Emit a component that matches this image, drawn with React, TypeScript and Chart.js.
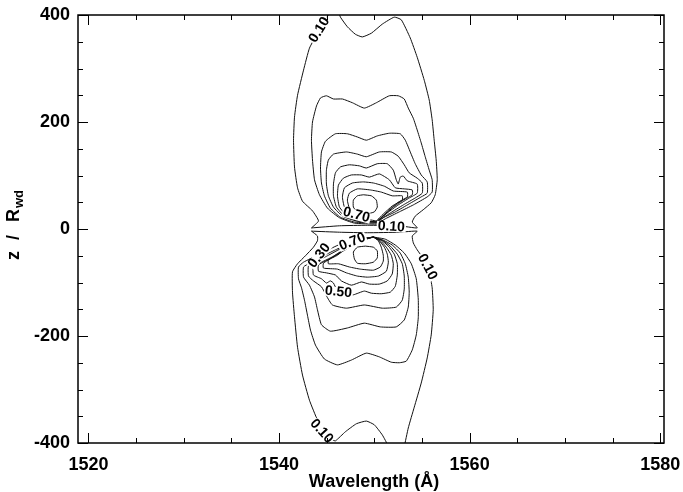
import React, { useEffect, useRef } from 'react';
import { Chart, registerables } from 'chart.js';

Chart.register(...registerables);

const FONT = '"Liberation Sans", Arial, Helvetica, sans-serif';

// Axis ranges and ticks
const xRange = [1518.9, 1580.4];
const yRange = [-400, 400];
const xMajorTicks = [1520, 1540, 1560, 1580];
const xMinorTicks = [1525, 1530, 1535, 1545, 1550, 1555, 1565, 1570, 1575];
const yMajorTicks = [-400, -200, 0, 200, 400];
const yMinorTicks = [-350, -300, -250, -150, -100, -50, 50, 100, 150, 250, 300, 350];

// Contours (wavelength in Å, z / R_wd), upper lobe
const upper010 = [
  [1543.40, 2], [1544.14, 15], [1543.51, 34], [1542.46, 52], [1541.94, 77], [1541.62, 116], [1541.52, 166],
  [1541.62, 209], [1541.94, 250], [1542.57, 297], [1543.19, 338], [1544.03, 366], [1544.87, 391], [1545.50, 409],
  [1546.13, 409], [1546.44, 396], [1547.17, 378], [1548.01, 364], [1548.74, 359], [1549.69, 366], [1550.84, 383],
  [1552.09, 396], [1552.83, 391], [1553.77, 357], [1554.50, 321], [1555.24, 278], [1555.76, 241], [1556.07, 204],
  [1556.28, 166], [1556.49, 129], [1556.60, 92], [1556.39, 64], [1555.97, 49], [1555.13, 36], [1554.29, 24],
  [1553.98, 13], [1554.50, 2], [1552.62, 6], [1549.27, 7], [1546.34, 6], [1543.40, 2],
];
const upper020 = [
  [1550.21, 9], [1547.91, 11], [1546.34, 21], [1545.08, 39], [1544.24, 64], [1543.72, 92], [1543.51, 129],
  [1543.40, 166], [1543.51, 200], [1543.93, 230], [1544.35, 245], [1544.97, 249], [1545.71, 243], [1546.65, 243],
  [1547.70, 236], [1548.95, 226], [1550.21, 236], [1551.57, 249], [1552.51, 249], [1553.14, 243], [1553.56, 226],
  [1554.09, 207], [1554.50, 185], [1554.92, 161], [1555.34, 135], [1555.76, 110], [1556.07, 92], [1556.07, 69],
  [1555.55, 60], [1554.09, 45], [1552.62, 32], [1551.15, 19], [1550.21, 9],
];
const upper030 = [
  [1550.21, 11], [1547.91, 13], [1546.44, 22], [1545.39, 39], [1544.76, 62], [1544.45, 86], [1544.35, 114],
  [1544.45, 144], [1544.87, 164], [1545.92, 178], [1547.17, 178], [1548.22, 172], [1549.16, 166], [1550.31, 174],
  [1551.57, 179], [1552.72, 178], [1553.25, 166], [1553.77, 144], [1554.29, 122], [1554.92, 101], [1555.55, 88],
  [1555.55, 67], [1554.92, 60], [1553.66, 47], [1552.20, 32], [1550.94, 21], [1550.21, 11],
];
const upper040 = [
  [1550.21, 13], [1548.12, 15], [1546.65, 24], [1545.71, 41], [1545.18, 62], [1544.97, 84], [1544.97, 110],
  [1545.18, 129], [1545.71, 140], [1547.07, 144], [1548.22, 140], [1549.16, 135], [1550.52, 144], [1551.78, 144],
  [1552.51, 136], [1553.14, 120], [1553.66, 105], [1554.50, 95], [1555.03, 86], [1555.03, 67], [1554.29, 58],
  [1553.04, 45], [1551.68, 30], [1550.21, 13],
];
const upper050 = [
  [1550.21, 13], [1548.22, 15], [1546.86, 24], [1546.02, 41], [1545.71, 62], [1545.71, 84], [1545.92, 105],
  [1546.44, 116], [1547.38, 120], [1548.43, 118], [1549.16, 114], [1550.31, 122], [1551.36, 122], [1551.99, 110],
  [1552.30, 92], [1552.51, 84], [1552.72, 97], [1553.04, 99], [1553.46, 90], [1554.50, 84], [1554.50, 67],
  [1553.66, 58], [1552.51, 45], [1551.36, 30], [1550.21, 13],
];
const upper060 = [
  [1550.21, 13], [1548.43, 15], [1547.17, 24], [1546.34, 41], [1546.13, 62], [1546.23, 82], [1546.75, 95],
  [1547.59, 101], [1548.64, 101], [1549.48, 97], [1550.52, 103], [1551.57, 92], [1552.20, 77], [1553.14, 75],
  [1553.98, 73], [1553.98, 64], [1553.04, 54], [1551.99, 41], [1551.05, 26], [1550.21, 13],
];
const upper070 = [
  [1550.21, 13], [1548.64, 17], [1547.59, 26], [1546.86, 41], [1546.65, 60], [1546.86, 77], [1547.70, 86],
  [1548.85, 88], [1549.90, 86], [1551.05, 80], [1551.99, 71], [1553.46, 69], [1553.46, 60], [1552.41, 49],
  [1551.47, 34], [1550.21, 13],
];
const upper080 = [
  [1550.21, 15], [1549.06, 19], [1548.01, 26], [1547.38, 39], [1547.17, 54], [1547.38, 67], [1548.22, 75],
  [1549.58, 73], [1550.73, 69], [1551.88, 62], [1552.93, 62], [1552.93, 54], [1551.88, 43], [1550.94, 28],
  [1550.21, 15],
];
const upper090 = [
  [1548.85, 64], [1549.69, 62], [1550.21, 54], [1550.31, 41], [1550.00, 32], [1549.16, 28], [1548.22, 32],
  [1547.80, 41], [1547.80, 54], [1548.22, 62], [1548.85, 64],
];

// Lower lobe
const lower010 = [
  [1543.40, -4], [1546.34, -6], [1549.27, -7], [1552.62, -6], [1554.50, -4], [1553.98, -13], [1554.09, -26],
  [1554.50, -39], [1555.24, -58], [1555.76, -80], [1556.07, -110], [1556.18, -151], [1555.97, -198],
  [1555.55, -241], [1554.92, -288], [1554.19, -333], [1553.56, -372], [1553.14, -407], [1552.93, -422],
  [1551.78, -422], [1551.47, -406], [1550.84, -385], [1550.00, -366], [1549.16, -359], [1548.12, -364],
  [1546.96, -379], [1545.92, -396], [1545.60, -394], [1544.76, -379], [1544.03, -357], [1543.19, -320],
  [1542.46, -273], [1541.94, -221], [1541.62, -164], [1541.41, -118], [1541.41, -80], [1541.94, -65],
  [1542.77, -50], [1543.61, -34], [1544.03, -22], [1544.03, -13], [1543.40, -4],
];
const lower020 = [
  [1549.90, -15], [1551.15, -19], [1552.20, -30], [1553.14, -45], [1553.88, -65], [1554.40, -93], [1554.61, -131],
  [1554.61, -166], [1554.40, -198], [1553.98, -226], [1553.35, -247], [1552.62, -250], [1551.78, -249],
  [1550.52, -239], [1549.16, -232], [1547.59, -245], [1546.13, -254], [1544.76, -243], [1543.82, -217],
  [1543.30, -189], [1542.98, -161], [1542.67, -133], [1542.36, -110], [1542.04, -93], [1542.04, -71],
  [1542.57, -62], [1544.03, -49], [1545.50, -36], [1546.96, -24], [1548.43, -19], [1549.90, -15],
];
const lower030 = [
  [1549.90, -15], [1550.94, -21], [1551.88, -30], [1552.72, -45], [1553.25, -65], [1553.56, -90], [1553.66, -118],
  [1553.56, -146], [1553.14, -170], [1552.30, -183], [1550.63, -183], [1548.95, -176], [1547.17, -185],
  [1545.39, -191], [1544.45, -179], [1544.03, -151], [1543.72, -127], [1543.19, -105], [1542.57, -90],
  [1542.57, -71], [1543.19, -64], [1544.45, -52], [1545.92, -39], [1547.28, -28], [1548.53, -19], [1549.90, -15],
];
const lower040 = [
  [1549.90, -15], [1550.84, -21], [1551.68, -32], [1552.41, -47], [1552.93, -65], [1553.14, -88], [1553.14, -112],
  [1552.93, -133], [1552.30, -146], [1550.84, -148], [1548.95, -142], [1547.07, -148], [1545.60, -142],
  [1544.97, -125], [1544.45, -108], [1543.61, -97], [1543.09, -88], [1543.09, -69], [1543.82, -62],
  [1545.08, -50], [1546.44, -37], [1547.70, -26], [1548.74, -19], [1549.90, -15],
];
const lower050 = [
  [1549.90, -15], [1550.73, -21], [1551.47, -32], [1552.09, -47], [1552.41, -65], [1552.41, -86], [1552.20, -107],
  [1551.68, -118], [1550.73, -121], [1549.69, -120], [1548.95, -116], [1547.80, -123], [1546.75, -123],
  [1546.13, -116], [1545.71, -101], [1545.39, -97], [1544.97, -101], [1544.45, -93], [1543.61, -86],
  [1543.61, -69], [1544.45, -62], [1545.60, -52], [1546.75, -39], [1547.80, -28], [1548.74, -21], [1549.90, -15],
];
const lower060 = [
  [1549.90, -15], [1550.63, -22], [1551.26, -34], [1551.78, -49], [1551.99, -65], [1551.88, -84], [1551.36, -97],
  [1550.52, -103], [1549.48, -103], [1548.64, -99], [1547.59, -105], [1546.54, -97], [1545.92, -86],
  [1544.97, -82], [1544.14, -79], [1544.14, -67], [1545.08, -58], [1546.13, -47], [1546.96, -36],
  [1548.01, -26], [1548.95, -19], [1549.90, -15],
];
const lower070 = [
  [1549.90, -15], [1550.52, -22], [1551.05, -34], [1551.36, -47], [1551.47, -62], [1551.26, -79], [1550.42, -88],
  [1549.27, -90], [1548.22, -88], [1547.07, -82], [1546.13, -75], [1544.66, -73], [1544.66, -64],
  [1545.71, -52], [1546.75, -41], [1547.80, -30], [1548.85, -21], [1549.90, -15],
];
const lower080 = [
  [1549.90, -15], [1550.42, -22], [1550.73, -34], [1550.94, -49], [1550.94, -60], [1550.63, -71], [1549.90, -77],
  [1548.53, -75], [1547.38, -71], [1546.23, -65], [1545.18, -65], [1545.18, -58], [1546.13, -49],
  [1546.96, -37], [1547.91, -26], [1548.85, -19], [1549.90, -15],
];
const lower090 = [
  [1549.06, -32], [1549.90, -34], [1550.31, -41], [1550.31, -54], [1549.90, -62], [1549.06, -65], [1548.22, -64],
  [1547.91, -56], [1547.80, -43], [1548.22, -34], [1549.06, -32],
];

// Contour labels
const labelTexts = ['0.10', '0.70', '0.10', '0.70', '0.30', '0.50', '0.10', '0.10'];
const labelWavelengths = [1544.24, 1548.12, 1551.78, 1547.70, 1544.24, 1546.23, 1555.55, 1544.45];
const labelZ = [372, 26, 4, -24, -50, -118, -71, -378];
// label rotation (style)
const labelAngles = [-58, 15, 4, -22, -52, 6, 62, 48];

const contours = [
  upper010, upper020, upper030, upper040, upper050, upper060, upper070, upper080, upper090,
  lower010, lower020, lower030, lower040, lower050, lower060, lower070, lower080, lower090,
];

const frameTicksPlugin = {
  id: 'frameTicks',
  afterDraw(chart: any) {
    const { ctx, chartArea: a, scales } = chart;
    const xs = scales.x;
    const ys = scales.y;
    ctx.save();
    ctx.strokeStyle = '#000';
    ctx.lineWidth = 1;
    ctx.beginPath();
    const xt = (v: number, len: number) => {
      const p = Math.round(xs.getPixelForValue(v)) + 0.5;
      ctx.moveTo(p, a.bottom); ctx.lineTo(p, a.bottom - len);
      ctx.moveTo(p, a.top); ctx.lineTo(p, a.top + len);
    };
    const yt = (v: number, len: number) => {
      const p = Math.round(ys.getPixelForValue(v)) + 0.5;
      ctx.moveTo(a.left, p); ctx.lineTo(a.left + len, p);
      ctx.moveTo(a.right, p); ctx.lineTo(a.right - len, p);
    };
    xMajorTicks.forEach((v) => xt(v, 10));
    xMinorTicks.forEach((v) => xt(v, 5));
    yMajorTicks.forEach((v) => yt(v, 10));
    yMinorTicks.forEach((v) => yt(v, 5));
    ctx.stroke();
    ctx.lineWidth = 1.5;
    ctx.strokeRect(a.left, a.top, a.right - a.left, a.bottom - a.top);

    // axis titles
    ctx.fillStyle = '#000';
    ctx.font = `bold 18px ${FONT}`;
    ctx.textAlign = 'center';
    ctx.textBaseline = 'alphabetic';
    ctx.fillText('Wavelength (Å)', (a.left + a.right) / 2 + 3, a.bottom + 44);

    const cy = (a.top + a.bottom) / 2;
    ctx.translate(a.left - 59, cy + 31);
    ctx.rotate(-Math.PI / 2);
    ctx.textAlign = 'left';
    ctx.font = `bold 18px ${FONT}`;
    ctx.fillText('z', 0, 0);
    ctx.fillText('/', 20, 0);
    ctx.fillText('R', 38, 0);
    ctx.font = `bold 13px ${FONT}`;
    ctx.fillText('wd', 52, 4);
    ctx.restore();
  },
};

const labelPlugin = {
  id: 'contourLabels',
  afterDatasetsDraw(chart: any) {
    const { ctx, scales } = chart;
    ctx.save();
    ctx.font = `bold 14px ${FONT}`;
    ctx.textAlign = 'center';
    ctx.textBaseline = 'middle';
    labelTexts.forEach((t, i) => {
      const px = scales.x.getPixelForValue(labelWavelengths[i]);
      const py = scales.y.getPixelForValue(labelZ[i]);
      ctx.save();
      ctx.translate(px, py);
      ctx.rotate((labelAngles[i] * Math.PI) / 180);
      const w = ctx.measureText(t).width;
      ctx.fillStyle = '#fff';
      ctx.fillRect(-w / 2 - 1, -5, w + 2, 10);
      ctx.fillStyle = '#000';
      ctx.fillText(t, 0, 0);
      ctx.restore();
    });
    ctx.restore();
  },
};

export default function App() {
  const canvasRef = useRef<HTMLCanvasElement | null>(null);

  useEffect(() => {
    document.body.style.margin = '0';
    document.body.style.background = '#fff';
    const canvas = canvasRef.current;
    if (!canvas) return;
    const chart = new Chart(canvas, {
      type: 'scatter',
      data: {
        datasets: contours.map((c) => ({
          data: c.map(([x, y]) => ({ x, y })),
          showLine: true,
          borderColor: '#111',
          borderWidth: 1,
          pointRadius: 0,
          fill: false,
          tension: 0.15,
        })),
      },
      options: {
        responsive: false,
        animation: false,
        events: [],
        layout: { padding: { top: 15, right: 19, left: 0, bottom: 0 } },
        plugins: { legend: { display: false }, tooltip: { enabled: false } },
        scales: {
          x: {
            type: 'linear',
            min: xRange[0],
            max: xRange[1],
            grid: { display: false, drawTicks: false },
            border: { display: false },
            afterBuildTicks: (s: any) => { s.ticks = xMajorTicks.map((v) => ({ value: v })); },
            afterFit: (s: any) => {
              s.height = 49;
              s.paddingLeft = 0;
              s.paddingRight = 0;
            },
            ticks: {
              color: '#000',
              font: { family: FONT, size: 18, weight: 'bold' },
              padding: 11,
              maxRotation: 0,
              autoSkip: false,
              callback: (v: any) => String(v),
            },
          },
          y: {
            type: 'linear',
            min: yRange[0],
            max: yRange[1],
            grid: { display: false, drawTicks: false },
            border: { display: false },
            afterBuildTicks: (s: any) => { s.ticks = yMajorTicks.map((v) => ({ value: v })); },
            afterFit: (s: any) => {
              s.width = 78;
              s.paddingTop = 0;
              s.paddingBottom = 0;
            },
            ticks: {
              color: '#000',
              font: { family: FONT, size: 18, weight: 'bold' },
              padding: 8,
              autoSkip: false,
              callback: (v: any) => String(v),
            },
          },
        },
      } as any,
      plugins: [labelPlugin, frameTicksPlugin],
    });
    return () => chart.destroy();
  }, []);

  return (
    <div style={{ width: 683, height: 492, background: '#fff' }}>
      <canvas ref={canvasRef} width={683} height={492} style={{ display: 'block' }} />
    </div>
  );
}
